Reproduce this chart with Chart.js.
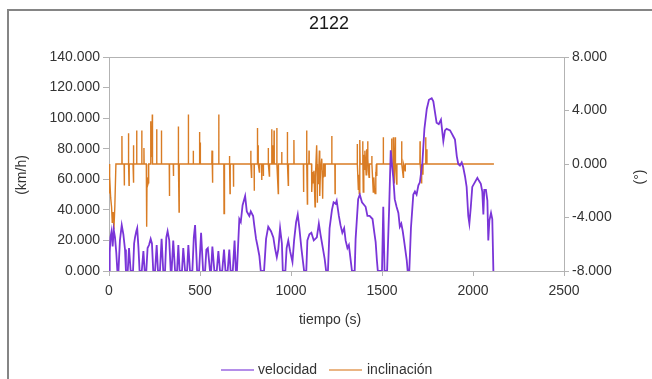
<!DOCTYPE html>
<html>
<head>
<meta charset="utf-8">
<title>2122</title>
<script src="https://cdn.jsdelivr.net/npm/chart.js@4.4.1/dist/chart.umd.min.js"></script>
<style>
  html, body { margin: 0; padding: 0; background: #fff; overflow: hidden; }
  .chart-container { position: absolute; left: 0; top: 0; width: 652px; height: 379px; }
</style>
</head>
<body>
<div class="chart-container"><canvas id="chart" width="652" height="379"></canvas></div>
<script>
// tiempo (s) / velocidad (km/h)
const velT = [0, 4, 8, 14, 20, 26, 33, 40, 46, 52, 60, 70, 79, 88, 93, 103, 110, 119, 132, 138,
  143, 150, 155, 162, 168, 180, 189, 196, 205, 212, 220, 229, 236, 243, 253, 262, 269, 280, 289, 298,
  308, 315, 322, 331, 339, 344, 353, 363, 374, 381, 388, 401, 408, 418, 429, 436, 445, 458, 466, 473,
  484, 495, 506, 517, 528, 535, 543, 555, 561, 568, 579, 592, 601, 610, 622, 632, 640, 652, 661, 668,
  680, 690, 697, 703, 716, 724, 734, 748, 757, 771, 779, 792, 798, 808, 815, 826, 834, 852, 863, 875,
  890, 903, 912, 922, 930, 940, 950, 955, 969, 976, 985, 995, 1008, 1017, 1028, 1037, 1046, 1057, 1066, 1072,
  1084, 1090, 1101, 1112, 1125, 1142, 1153, 1162, 1175, 1185, 1193, 1203, 1212, 1225, 1234, 1245, 1251, 1263, 1272, 1282,
  1292, 1300, 1310, 1318, 1328, 1335, 1350, 1355, 1369, 1378, 1390, 1410, 1420, 1432, 1448, 1458, 1465, 1472, 1477, 1500,
  1507, 1514, 1528, 1539, 1548, 1556, 1562, 1570, 1580, 1590, 1598, 1606, 1614, 1620, 1636, 1641, 1650, 1659, 1672, 1681,
  1690, 1700, 1708, 1722, 1733, 1746, 1758, 1773, 1782, 1791, 1800, 1812, 1824, 1837, 1846, 1855, 1874, 1883, 1892, 1901,
  1911, 1919, 1928, 1938, 1946, 1956, 1965, 1974, 1980, 1988, 1996, 2010, 2024, 2033, 2043, 2051, 2057, 2062, 2071, 2079,
  2084, 2090, 2099, 2106, 2112];
const velV = [0, 12, 22, 26, 16, 27, 22, 12, 0, 0, 20, 30, 24, 14, 0, 0, 15, 0, 0, 18,
  22, 26, 28, 15, 0, 0, 13, 0, 0, 15, 17, 21, 18, 0, 0, 17, 0, 0, 21, 0,
  0, 22, 26, 20, 0, 0, 20, 0, 0, 17, 0, 0, 15, 0, 0, 17, 0, 0, 22, 30,
  0, 0, 25, 0, 0, 14, 15, 0, 0, 16, 0, 0, 13, 0, 0, 14, 0, 0, 14, 0,
  0, 20, 0, 0, 34, 32, 43, 49, 39, 36, 39, 36, 30, 21, 17, 10, 0, 0, 21, 29,
  26, 22, 15, 9, 14, 28, 18, 0, 0, 15, 20, 13, 6, 20, 32, 37, 28, 15, 6, 0,
  0, 20, 24, 25, 20, 22, 31, 24, 15, 8, 0, 0, 28, 40, 45, 44, 46, 36, 30, 25,
  28, 20, 15, 17, 7, 0, 0, 21, 47, 50, 45, 42, 36, 36, 34, 25, 19, 7, 0, 0,
  42, 0, 0, 40, 79, 68, 61, 47, 42, 38, 29, 31, 26, 21, 7, 0, 0, 28, 50, 52,
  50, 56, 58, 71, 93, 106, 112, 113, 111, 104, 97, 96, 99, 85, 92, 93, 92, 90, 88, 86,
  75, 70, 69, 71, 68, 62, 55, 36, 31, 42, 55, 58, 61, 59, 57, 52, 37, 53, 53, 46,
  20, 33, 38, 34, 0];

// tiempo (s) / inclinación (°)
const incT = [0, 2, 5, 9, 14, 18, 22, 27, 32, 38,
  70, 71, 72, 83, 84, 85, 106, 107, 108, 110, 111, 132, 133, 134, 136, 137,
  151, 152, 153, 179, 180, 181, 191, 192, 193, 205, 207, 209, 212, 216, 218,
  228, 229, 230, 236, 238, 239, 261, 262, 263, 287, 288, 289, 331, 332, 333,
  353, 354, 355, 380, 381, 382, 385, 386, 435, 436, 437, 462, 463, 464,
  496, 497, 499, 501, 502, 565, 566, 567, 570, 571, 602, 603, 604,
  631, 632, 634, 635, 661, 662, 663, 665, 666, 683, 684, 685,
  778, 779, 780, 783, 784, 797, 798, 799, 814, 815, 817, 819, 820, 826, 827,
  838, 839, 840, 847, 848, 849, 874, 875, 876, 881, 882, 893, 894, 895, 899, 900,
  906, 907, 908, 921, 922, 923, 930, 931, 948, 949, 950, 979, 980, 981, 985, 986,
  1015, 1016, 1017, 1068, 1069, 1070, 1085, 1086, 1087, 1090, 1091, 1098, 1099, 1100,
  1113, 1114, 1116, 1118, 1123, 1126, 1132, 1134, 1141, 1143, 1144, 1146, 1150, 1156, 1157,
  1159, 1162, 1169, 1172, 1174, 1176, 1178, 1180, 1186, 1187, 1188,
  1223, 1224, 1225, 1241, 1242, 1243,
  1363, 1364, 1365, 1370, 1372, 1375, 1377, 1379, 1380,
  1393, 1394, 1395, 1397, 1399, 1401, 1403, 1406, 1409, 1413, 1416, 1418, 1421, 1423, 1425, 1429, 1431,
  1443, 1444, 1445, 1452, 1455, 1458, 1462, 1465, 1467, 1469, 1471, 1472,
  1506, 1507, 1508, 1552, 1553, 1554, 1561, 1562, 1563, 1566, 1568, 1572, 1574, 1581, 1582,
  1607, 1608, 1609, 1617, 1618, 1627, 1628,
  1708, 1709, 1710, 1717, 1718, 1725, 1726, 1739, 1740, 1741, 1746, 1747, 2115];
const incV = [0, -2.2, -0.9, -2.5, -3.2, -4.4, -3.6, -4.9, -3.2, 0,
  0, 2.1, 0, 0, -1.6, 0, 0, 2.3, 0, -1.6, 0, 0, 1.4, 0, -1.4, 0,
  0, 2.5, 0, 0, 2.5, 0, 0, 1.2, 0, 0, -4.7, -1.0, -1.6, -1.4, 0,
  0, 3.2, 0.5, 0.8, 3.7, 0, 0, 2.6, 0, 0, 2.5, 0, 0, -2.4, 0,
  0, -0.9, 0, 0, 2.8, 0, -3.6, 0, 0, 3.7, 0, 0, 1.0, 0,
  0, 2.4, 1.0, 1.6, 0, 0, 1.0, 0, -1.4, 0, 0, 3.7, 0,
  0, -3.7, -1.0, 0, 0, 0.6, 0, -2.2, 0, 0, -1.7, 0,
  0, 1.0, 0, -1.0, 0, 0, -2.0, 0, 0, 2.7, 1.0, 1.4, 0, -0.6, 0,
  0, -1.2, 0, 0, -0.9, 0, 0, 1.2, 0, -0.9, 0, 0, 2.6, 0, 1.4, 0,
  0, 2.5, 0, 0, 2.7, 0, -2.2, 0, 0, 0.9, 0, 0, 2.4, 0, -1.6, 0,
  0, 1.8, 0, 0, -2.1, 0, 0, 2.5, 0, -3.0, 0, 0, 1.0, 0,
  0, -2.1, -1.4, -0.6, -1.4, -0.5, -3.2, -1.0, 1.4, 0, -2.9, -0.8, -1.5, 1.0, 0,
  -2.4, -0.5, 0.4, -1.2, -2.6, -0.5, -1.0, 0, 0, -0.9, 0,
  0, 2.1, 0, 0, -2.2, 0,
  0, 1.5, 0, -1.9, -0.8, -2.2, 0, 1.8, 0,
  0, 1.7, 0.6, -2.1, 0.2, 0.7, -0.4, 1.0, 0.3, -0.8, 1.1, 0, 1.7, 0.4, -0.5, -1.0, 0,
  0, 0.6, 0, -2.1, -1.0, -1.8, -2.2, -0.6, -1.0, 0, -0.9, 0,
  0, 2.0, 0, 0, 1.9, 0, 0, 2.0, 0.4, -1.4, 0, 2.0, 0, -1.5, 0,
  0, 1.7, 0, -1.0, 0, -0.5, 0,
  0, 1.7, 0, -1.4, 0, -0.8, 0, 0, 2.0, 0, 1.1, 0, 0];

// tick labels
const xTicks = [0, 500, 1000, 1500, 2000, 2500];
const speedTicks = [0, 20, 40, 60, 80, 100, 120, 140];
const slopeTicks = [-8, -4, 0, 4, 8];

const FONT = '"Liberation Sans", Arial, sans-serif';
const AXIS = '#b3b3b3';
const TEXT = '#333333';

const toPoints = (xs, ys) => xs.map((x, i) => ({ x, y: ys[i] }));

// page frame (only its top and left edges are in view)
const frame = {
  id: 'frame',
  beforeDraw(chart) {
    const { ctx } = chart;
    ctx.save();
    ctx.fillStyle = '#858585';
    ctx.fillRect(7, 9, chart.width - 7, 2);
    ctx.fillRect(7, 9, 2, chart.height - 9);
    ctx.restore();
  }
};

// title, axis titles, legend and top border of the plot area
const decorations = {
  id: 'decorations',
  afterDraw(chart) {
    const { ctx, chartArea: a } = chart;
    ctx.save();
    ctx.strokeStyle = AXIS;
    ctx.lineWidth = 1;
    ctx.beginPath();
    ctx.moveTo(a.left, a.top + 0.5);
    ctx.lineTo(a.right, a.top + 0.5);
    ctx.stroke();

    ctx.textBaseline = 'middle';
    ctx.textAlign = 'center';
    ctx.fillStyle = '#1a1a1a';
    ctx.font = '18px ' + FONT;
    ctx.fillText('2122', 329, 24);

    ctx.fillStyle = TEXT;
    ctx.font = '14px ' + FONT;
    ctx.fillText('tiempo (s)', 330, 320);

    ctx.save();
    ctx.translate(22, 175);
    ctx.rotate(-Math.PI / 2);
    ctx.fillText('(km/h)', 0, 0);
    ctx.restore();

    ctx.save();
    ctx.translate(640, 177);
    ctx.rotate(-Math.PI / 2);
    ctx.fillText('(°)', 0, 0);
    ctx.restore();

    // legend
    const items = [[221, 258], [329, 367]];
    chart.data.datasets.forEach((ds, i) => {
      const [x0, tx] = items[i];
      ctx.strokeStyle = ds.borderColor;
      ctx.globalAlpha = 0.75;
      ctx.lineWidth = 1.5;
      ctx.beginPath();
      ctx.moveTo(x0, 370);
      ctx.lineTo(x0 + 33, 370);
      ctx.stroke();
      ctx.globalAlpha = 1;
      ctx.textAlign = 'left';
      ctx.fillStyle = TEXT;
      ctx.fillText(ds.label, tx, 370);
    });
    ctx.restore();
  }
};

const axisGrid = (len) => ({
  display: true,
  drawOnChartArea: false,
  drawTicks: true,
  tickLength: len,
  color: AXIS
});

new Chart(document.getElementById('chart'), {
  type: 'line',
  data: {
    datasets: [
      {
        label: 'velocidad',
        data: toPoints(velT, velV),
        yAxisID: 'y',
        borderColor: '#7a35d8',
        borderWidth: 1.8,
        pointRadius: 0,
        tension: 0
      },
      {
        label: 'inclinación',
        data: toPoints(incT, incV),
        yAxisID: 'y1',
        borderColor: '#d97c24',
        borderWidth: 1.4,
        pointRadius: 0,
        tension: 0
      }
    ]
  },
  options: {
    responsive: false,
    animation: false,
    layout: { padding: { top: 57, left: 0, right: 0, bottom: 0 } },
    plugins: {
      legend: { display: false },
      title: { display: false },
      tooltip: { enabled: false }
    },
    scales: {
      x: {
        type: 'linear',
        min: 0,
        max: 2500,
        afterBuildTicks: (s) => { s.ticks = xTicks.map(v => ({ value: v })); },
        afterFit: (s) => { s.height = 108; },
        ticks: { color: TEXT, font: { family: FONT, size: 14 }, padding: 7, maxRotation: 0, callback: (v) => String(v) },
        grid: axisGrid(5),
        border: { display: true, color: AXIS }
      },
      y: {
        position: 'left',
        min: 0,
        max: 140,
        afterBuildTicks: (s) => { s.ticks = speedTicks.map(v => ({ value: v })); },
        afterFit: (s) => { s.width = 109; },
        ticks: { color: TEXT, font: { family: FONT, size: 14 }, padding: 3, callback: (v) => v.toFixed(3) },
        grid: axisGrid(6),
        border: { display: true, color: AXIS }
      },
      y1: {
        position: 'right',
        min: -8,
        max: 8,
        afterBuildTicks: (s) => { s.ticks = slopeTicks.map(v => ({ value: v })); },
        afterFit: (s) => { s.width = 88; },
        ticks: { color: TEXT, font: { family: FONT, size: 14 }, padding: 3, callback: (v) => v.toFixed(3) },
        grid: axisGrid(5),
        border: { display: true, color: AXIS }
      }
    }
  },
  plugins: [frame, decorations]
});
</script>
</body>
</html>
